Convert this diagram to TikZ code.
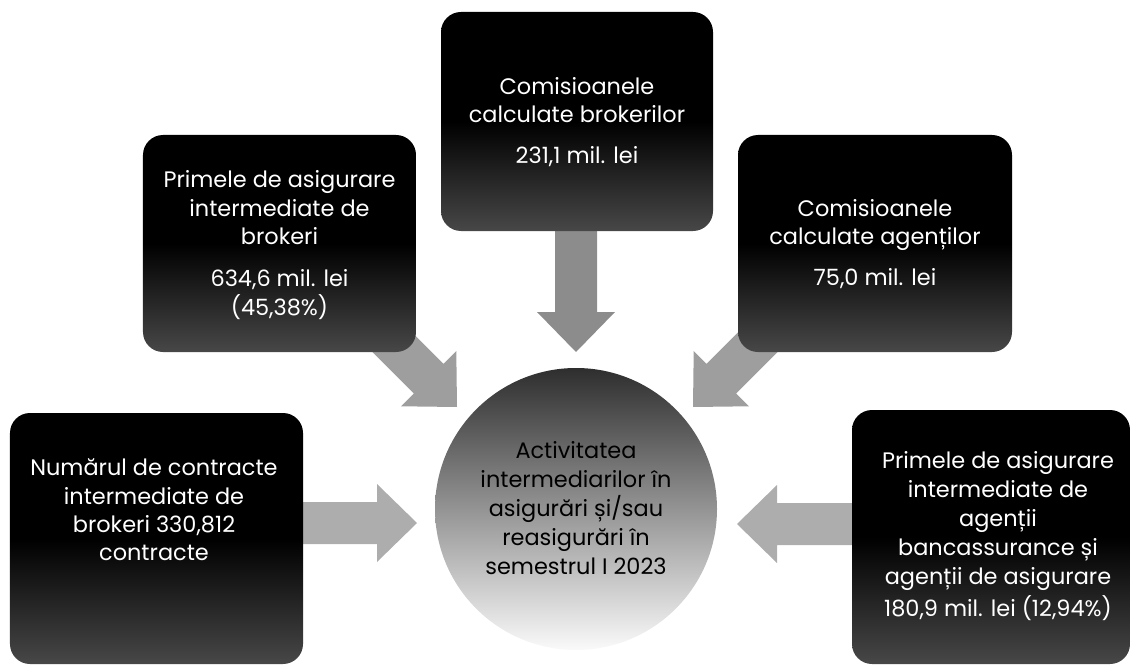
\documentclass[tikz,border=0pt]{standalone}
\usepackage{fontspec}
\setmainfont{Poppins}
\usetikzlibrary{calc}
\tikzset{
  darkbox/.style={rounded corners=20bp, top color=black, bottom color=black!72, middle color=black, draw=none, inner sep=0pt},
  boxtext/.style={text=white, align=center, inner sep=0pt, font=\fontsize{22.5}{28.5}\selectfont},
  hub/.style={circle, top color=black!82, bottom color=black!2, draw=none, minimum size=282bp, inner sep=0pt},
  hubtext/.style={text=black, align=center, inner sep=0pt, font=\fontsize{22.5}{29.3}\selectfont},
  arrowfill/.style={fill=black!38, draw=none},
}
\newcommand\blockarrow[3][]{%
  \coordinate (#2-#3-b) at ($(#3)!40bp!(#2)$);
  \fill[arrowfill,#1] ($(#2)!21bp!90:(#3)$) -- ($(#2-#3-b)!21bp!90:(#3)$) -- ($(#2-#3-b)!39bp!90:(#3)$) -- (#3)
    -- ($(#2-#3-b)!39bp!-90:(#3)$) -- ($(#2-#3-b)!21bp!-90:(#3)$) -- ($(#2)!21bp!-90:(#3)$) -- cycle;}
\begin{document}
\begin{tikzpicture}[x=1bp,y=-1bp]
\useasboundingbox (0,0) rectangle (1131,665);
% arrow end points
\coordinate (sdown) at (576,215);  \coordinate (tdown) at (576,352);
\coordinate (sdl) at (379,329);    \coordinate (tdl) at (457,407);
\coordinate (sdr) at (771,329);    \coordinate (tdr) at (693,407);
\coordinate (sleft) at (290,523);  \coordinate (tleft) at (417,523);
\coordinate (sright) at (865,524); \coordinate (tright) at (737,524);
% block arrows
\blockarrow[fill=black!45]{sdown}{tdown}
\blockarrow{sdl}{tdl}
\blockarrow{sdr}{tdr}
\blockarrow[fill=black!32]{sleft}{tleft}
\blockarrow[fill=black!32]{sright}{tright}
% boxes
\node[darkbox, minimum width=273bp, minimum height=217bp] (tl) at (279.5,243.5) {};
\node[darkbox, minimum width=272bp, minimum height=219bp] (tc) at (577,121.5) {};
\node[darkbox, minimum width=274bp, minimum height=217bp] (tr) at (875,243.5) {};
\node[darkbox, minimum width=293bp, minimum height=251bp] (bl) at (156.5,538.5) {};
\node[darkbox, minimum width=278bp, minimum height=254bp] (br) at (991,537) {};
% texts
\node[boxtext] (tlt) at (279.5,245) {Primele de asigurare\\intermediate de\\brokeri\\[14bp]634,6 mil. lei\\(45,38\%)};
\node[boxtext] (tct) at (577,122) {Comisioanele\\calculate brokerilor\\[12bp]231,1 mil. lei};
\node[boxtext] (trt) at (875,244) {Comisioanele\\calculate agenților\\[12bp]75,0 mil. lei};
\node[boxtext] (blt) at (154,510) {Numărul de contracte\\intermediate de\\brokeri 330,812\\contracte};
\node[boxtext, font=\fontsize{22.5}{29.2}\selectfont] (brt) at (998,536) {Primele de asigurare\\intermediate de\\agenții\\bancassurance și\\agenții de asigurare\\[3bp]180,9 mil. lei (12,94\%)};
% hub
\node[hub] (c) at (576,509) {};
\node[hubtext] (ct) at (576,508) {Activitatea\\intermediarilor în\\asigurări și/sau\\reasigurări în\\semestrul I 2023};
\end{tikzpicture}
\end{document}
